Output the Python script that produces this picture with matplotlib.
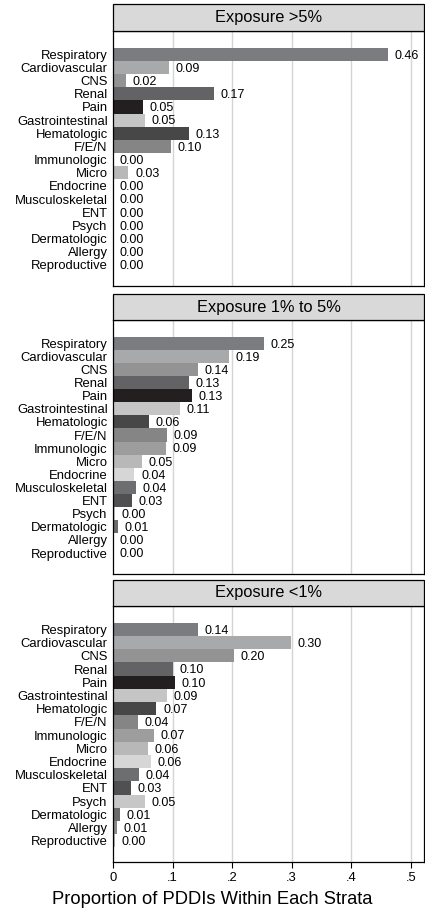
import matplotlib
matplotlib.use("Agg")
import matplotlib.pyplot as plt
from matplotlib.patches import Rectangle

plt.rcParams['font.family'] = ['Liberation Sans', 'DejaVu Sans']

categories = ["Respiratory", "Cardiovascular", "CNS", "Renal", "Pain",
              "Gastrointestinal", "Hematologic", "F/E/N", "Immunologic",
              "Micro", "Endocrine", "Musculoskeletal", "ENT", "Psych",
              "Dermatologic", "Allergy", "Reproductive"]

bar_colors = ["#7b7c80", "#a8a9ab", "#939393", "#636365", "#231f20",
              "#c5c5c5", "#474748", "#858585", "#9d9d9d", "#b8b8b8",
              "#d6d6d6", "#6d6e70", "#505052", "#c7c7c7", "#6a6a6a",
              "#888888", "#b5b5b5"]

strata_titles = ["Exposure >5%", "Exposure 1% to 5%", "Exposure <1%"]

exposure_high = [0.461, 0.094, 0.022, 0.169, 0.050, 0.054, 0.128, 0.098,
                 0.000, 0.026, 0.000, 0.000, 0.000, 0.000, 0.000, 0.000, 0.000]
exposure_mid = [0.254, 0.194, 0.143, 0.128, 0.132, 0.113, 0.060, 0.091,
                0.089, 0.049, 0.036, 0.039, 0.032, 0.003, 0.008, 0.000, 0.000]
exposure_low = [0.142, 0.299, 0.203, 0.101, 0.104, 0.090, 0.073, 0.042,
                0.068, 0.059, 0.064, 0.044, 0.030, 0.053, 0.012, 0.007, 0.004]

xticks = [0, 0.1, 0.2, 0.3, 0.4, 0.5]
xtick_labels = ["0", ".1", ".2", ".3", ".4", ".5"]
xlabel = "Proportion of PDDIs Within Each Strata"

W, H = 425, 908
fig = plt.figure(figsize=(W / 100, H / 100), dpi=100)

# panel geometry in pixels: (header top, plot top, plot bottom)
panels_px = [(4, 31, 286), (294, 320, 574), (580, 606, 862)]
left_px, right_px = 113, 424

series = [exposure_high, exposure_mid, exposure_low]
n = len(categories)

for k, (values, title, (htop, ptop, pbot)) in enumerate(zip(series, strata_titles, panels_px)):
    ax = fig.add_axes([left_px / W, 1 - pbot / H,
                       (right_px - left_px) / W, (pbot - ptop) / H])
    y = list(range(n))
    ax.barh(y, values, height=1.0, color=bar_colors, edgecolor='none', zorder=2)
    ax.set_xlim(0, 0.522)
    ax.set_ylim(n - 1 + 1.6, -1.77)
    ax.set_yticks(y)
    ax.set_yticklabels(categories, fontsize=9.4)
    ax.tick_params(axis='y', length=0, pad=3.8)
    for xv in xticks[1:]:
        ax.axvline(xv, color='#d4d4d4', lw=1.0, zorder=1)
    for yi, v in zip(y, values):
        ax.text(v + 0.011, yi + 0.1, f"{v:.2f}", va='center', ha='left',
                fontsize=9.0, zorder=3)
    for s in ax.spines.values():
        s.set_color('black')
        s.set_linewidth(0.9)
    ax.set_xticks(xticks)
    if k == 2:
        ax.set_xticklabels(xtick_labels, fontsize=9.4)
        ax.tick_params(axis='x', length=4, width=0.8, pad=3)
    else:
        ax.tick_params(axis='x', length=0, labelbottom=False)
    # strip header with title
    hh = (ptop - htop) / (pbot - ptop)
    ax.add_patch(Rectangle((0, 1), 1, hh, transform=ax.transAxes,
                           facecolor='#d9d9d9', edgecolor='black', lw=0.9,
                           clip_on=False, zorder=5))
    ax.text(0.5, 1 + hh / 2, title, transform=ax.transAxes, ha='center',
            va='center', fontsize=11.8, zorder=6)

fig.text(0.5, 1 - 900 / H, xlabel, ha='center', va='center', fontsize=13.2)

fig.savefig("out.png", dpi=100)
